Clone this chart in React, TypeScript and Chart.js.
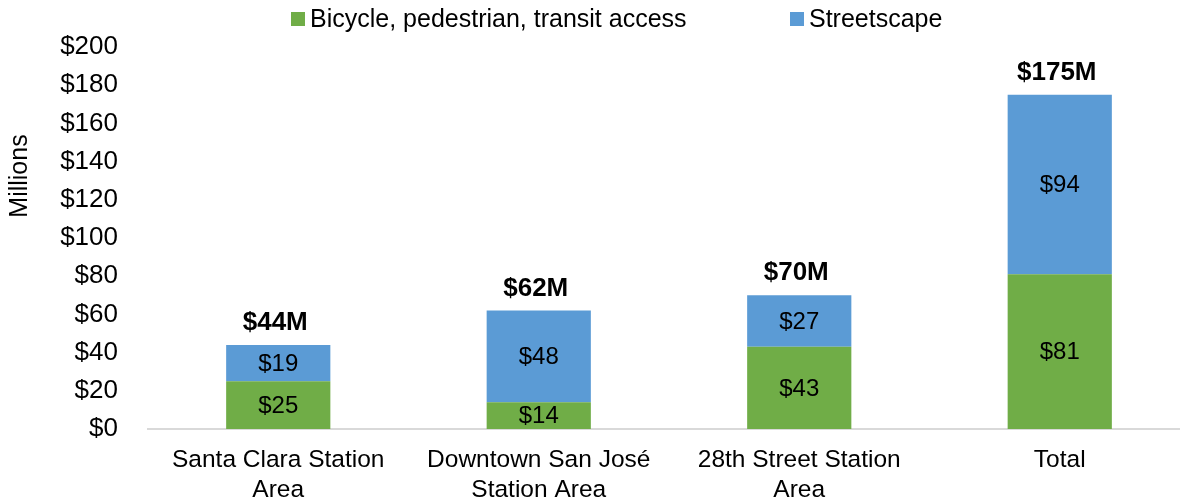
import React, { useEffect, useRef } from "react";
import { Chart, registerables } from "chart.js";

Chart.register(...registerables);

const categories: string[][] = [
  ["Santa Clara Station", "Area"],
  ["Downtown San José", "Station Area"],
  ["28th Street Station", "Area"],
  ["Total"],
];
const bikeValues: number[] = [25, 14, 43, 81];
const streetscapeValues: number[] = [19, 48, 27, 94];
const totalLabels: string[] = ["$44M", "$62M", "$70M", "$175M"];
const seriesNames: string[] = ["Bicycle, pedestrian, transit access", "Streetscape"];
const yTicks: number[] = [0, 20, 40, 60, 80, 100, 120, 140, 160, 180, 200];

const GREEN = "#70AD47";
const BLUE = "#5B9BD5";
const FONT = "'Liberation Sans', Arial, sans-serif";

const overlayPlugin = {
  id: "overlay",
  afterDatasetsDraw(chart: any) {
    const ctx = chart.ctx;
    ctx.save();
    // segment labels
    ctx.fillStyle = "#000";
    ctx.textAlign = "center";
    ctx.textBaseline = "middle";
    ctx.font = `24px ${FONT}`;
    chart.data.datasets.forEach((ds: any, di: number) => {
      const meta = chart.getDatasetMeta(di);
      meta.data.forEach((bar: any, i: number) => {
        const v = ds.data[i];
        const cy = (bar.y + bar.base) / 2;
        ctx.fillText("$" + v, bar.x, cy + 1);
      });
    });
    // totals
    ctx.font = `bold 26px ${FONT}`;
    const topMeta = chart.getDatasetMeta(chart.data.datasets.length - 1);
    topMeta.data.forEach((bar: any, i: number) => {
      ctx.fillText(totalLabels[i], bar.x - 3, bar.y - 22);
    });
    ctx.restore();
  },
  afterDraw(chart: any) {
    const ctx = chart.ctx;
    ctx.save();
    // y-axis title
    ctx.fillStyle = "#000";
    ctx.font = `25px ${FONT}`;
    ctx.textAlign = "center";
    ctx.textBaseline = "middle";
    ctx.translate(20, 176);
    ctx.rotate(-Math.PI / 2);
    ctx.fillText("Millions", 0, 0);
    ctx.restore();

    // legend
    ctx.save();
    ctx.font = `25px ${FONT}`;
    ctx.textBaseline = "middle";
    ctx.textAlign = "left";
    const colors = [GREEN, BLUE];
    const starts = [291, 790];
    const ly = 19;
    seriesNames.forEach((name, i) => {
      ctx.fillStyle = colors[i];
      ctx.fillRect(starts[i], ly - 7, 14, 14);
      ctx.fillStyle = "#000";
      ctx.fillText(name, starts[i] + 19, ly + 1);
    });
    ctx.restore();
  },
};

export default function App() {
  const canvasRef = useRef<HTMLCanvasElement | null>(null);

  useEffect(() => {
    if (!canvasRef.current) return;
    const chart = new Chart(canvasRef.current, {
      type: "bar",
      data: {
        labels: categories,
        datasets: [
          {
            label: seriesNames[0],
            data: bikeValues,
            backgroundColor: GREEN,
            borderWidth: 0,
            barPercentage: 0.8,
            categoryPercentage: 0.5,
          },
          {
            label: seriesNames[1],
            data: streetscapeValues,
            backgroundColor: BLUE,
            borderWidth: 0,
            barPercentage: 0.8,
            categoryPercentage: 0.5,
          },
        ],
      },
      options: {
        animation: false,
        responsive: true,
        maintainAspectRatio: false,
        layout: { padding: { top: 47, right: 2, left: 0, bottom: 0 } },
        plugins: {
          legend: { display: false },
          tooltip: { enabled: false },
        },
        scales: {
          x: {
            stacked: true,
            grid: { display: false, drawTicks: false },
            border: { display: true, color: "#D9D9D9", width: 2 },
            ticks: {
              color: "#000",
              font: { family: FONT, size: 24.5 },
              padding: 17,
              maxRotation: 0,
              autoSkip: false,
            },
            afterFit: (scale: any) => {
              scale.height = 74;
            },
          },
          y: {
            stacked: true,
            min: 0,
            max: 200,
            afterBuildTicks: (scale: any) => {
              scale.ticks = yTicks.map((v) => ({ value: v }));
            },
            grid: { display: false, drawTicks: false },
            border: { display: false },
            ticks: {
              color: "#000",
              font: { family: FONT, size: 26 },
              padding: 30,
              callback: (v: any) => "$" + v,
            },
            afterFit: (scale: any) => {
              scale.width = 148;
            },
          },
        },
      },
      plugins: [overlayPlugin],
    });
    return () => chart.destroy();
  }, []);

  return (
    <div style={{ position: "fixed", left: 0, top: 0, width: 1180, height: 503, overflow: "hidden", background: "#fff" }}>
      <div style={{ position: "absolute", left: 0, top: 0, width: 1192, height: 503 }}>
        <canvas ref={canvasRef} />
      </div>
    </div>
  );
}
